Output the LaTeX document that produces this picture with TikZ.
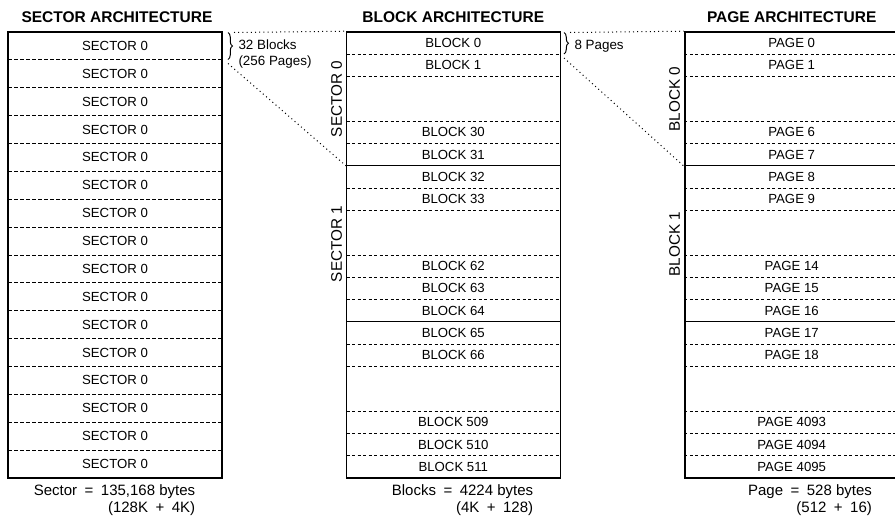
\documentclass[tikz,border=0pt]{standalone}
\usepackage{fontspec}
\setmainfont{Liberation Sans}
\usetikzlibrary{decorations.pathreplacing}

\tikzset{
  archbox/.style={draw, line width=1.6pt, inner sep=0pt, minimum width=214pt},
  secsep/.style={line width=1pt, dash pattern=on 4pt off 2pt},
  rowsep/.style={line width=1pt, dash pattern=on 3pt off 2.5pt},
  grpsep/.style={line width=1.1pt},
  rowtext/.style={font=\fontsize{13.2}{15}\selectfont},
  sidetext/.style={font=\fontsize{15.3}{17}\selectfont, rotate=90},
  archtitle/.style={font=\bfseries\fontsize{15.5}{18}\selectfont},
  sizetext/.style={font=\fontsize{15}{16.5}\selectfont, align=right},
  bracetext/.style={font=\fontsize{13.4}{15.5}\selectfont, align=left, anchor=west},
  spanbrace/.style={decorate, decoration={brace, amplitude=4.5pt}, line width=1pt},
  zoomline/.style={line width=1pt, dash pattern=on 1pt off 3.2pt}
}

\begin{document}
\begin{tikzpicture}[x=1pt,y=-1pt]
  \useasboundingbox (0,0) rectangle (895,517);
  \clip (0,0) rectangle (895,517);

  % Sector architecture
  \node[archtitle] (sectitle) at (117,17.5) {SECTOR ARCHITECTURE};
  \foreach \k in {1,...,15}
    \draw[secsep] (8,{32+27.875*\k}) -- (222,{32+27.875*\k});
  \foreach \k in {0,...,15}
    \node[rowtext] (sec\k) at (115,{32+27.875*(\k+0.5)}) {SECTOR 0};
  \node[archbox, minimum height=446pt] (secbox) at (115,255) {};
  \node[sizetext] (secsize) at (114.5,500) {Sector\enspace=\enspace135,168 bytes\\(128K\enspace+\enspace4K)};

  % Block architecture
  \node[archtitle] (blktitle) at (453.3,17.5) {BLOCK ARCHITECTURE};
  \foreach \k in {1,2,4,5,7,8,10,11,12,14,15,17,18,19}
    \draw[rowsep] (346.7,{32+22.3*\k}) -- (560,{32+22.3*\k});
  \foreach \k in {6,13}
    \draw[grpsep] (346.7,{32+22.3*\k}) -- (560,{32+22.3*\k});
  \foreach \k/\n in {0/0,1/1,4/30,5/31,6/32,7/33,10/62,11/63,12/64,13/65,14/66,17/509,18/510,19/511}
    \node[rowtext] (blk\n) at (453.3,{32+22.3*(\k+0.5)}) {BLOCK \n};
  \node[archbox, minimum height=446pt] (blkbox) at (453.3,255) {};
  \node[sidetext] (sec0side) at (336.5,99) {SECTOR 0};
  \node[sidetext] (sec1side) at (336.5,244) {SECTOR 1};
  \node[sizetext] (blksize) at (462.5,500) {Blocks\enspace=\enspace4224 bytes\\(4K\enspace+\enspace128)};

  % Page architecture
  \node[archtitle] (pgtitle) at (791.7,17.5) {PAGE ARCHITECTURE};
  \foreach \k in {1,2,4,5,7,8,10,11,12,14,15,17,18,19}
    \draw[rowsep] (684.3,{32+22.3*\k}) -- (899,{32+22.3*\k});
  \foreach \k in {6,13}
    \draw[grpsep] (684.3,{32+22.3*\k}) -- (899,{32+22.3*\k});
  \foreach \k/\n in {0/0,1/1,4/6,5/7,6/8,7/9,10/14,11/15,12/16,13/17,14/18,17/4093,18/4094,19/4095}
    \node[rowtext] (pg\n) at (791.7,{32+22.3*(\k+0.5)}) {PAGE \n};
  \node[archbox, minimum height=446pt] (pgbox) at (791.7,255) {};
  \node[sidetext] (blk0side) at (674.5,99) {BLOCK 0};
  \node[sidetext] (blk1side) at (674.5,244) {BLOCK 1};
  \node[sizetext] (pgsize) at (810,500) {Page\enspace=\enspace528 bytes\\(512\enspace+\enspace16)};

  % Braces and zoom lines
  \coordinate (sbtop) at (228,32.5);
  \coordinate (sbbot) at (228,59.5);
  \coordinate (pbtop) at (564,32.5);
  \coordinate (pbbot) at (564,54);
  \coordinate (blkgrp) at (346,165.8);
  \coordinate (pggrp) at (683.5,165.8);
  \draw[spanbrace] (sbtop) -- (sbbot);
  \draw[spanbrace] (pbtop) -- (pbbot);
  \node[bracetext] (seclbl) at (235,54) {32 Blocks\\(256 Pages)};
  \node[bracetext] (pglbl) at (571,46) {8 Pages};
  \draw[zoomline] ([xshift=6pt]sbtop) -- (blkbox.north west);
  \draw[zoomline] ([yshift=-4pt]sbbot) -- (blkgrp);
  \draw[zoomline] ([xshift=6pt]pbtop) -- (pgbox.north west);
  \draw[zoomline] ([yshift=-4pt]pbbot) -- (pggrp);
\end{tikzpicture}
\end{document}
